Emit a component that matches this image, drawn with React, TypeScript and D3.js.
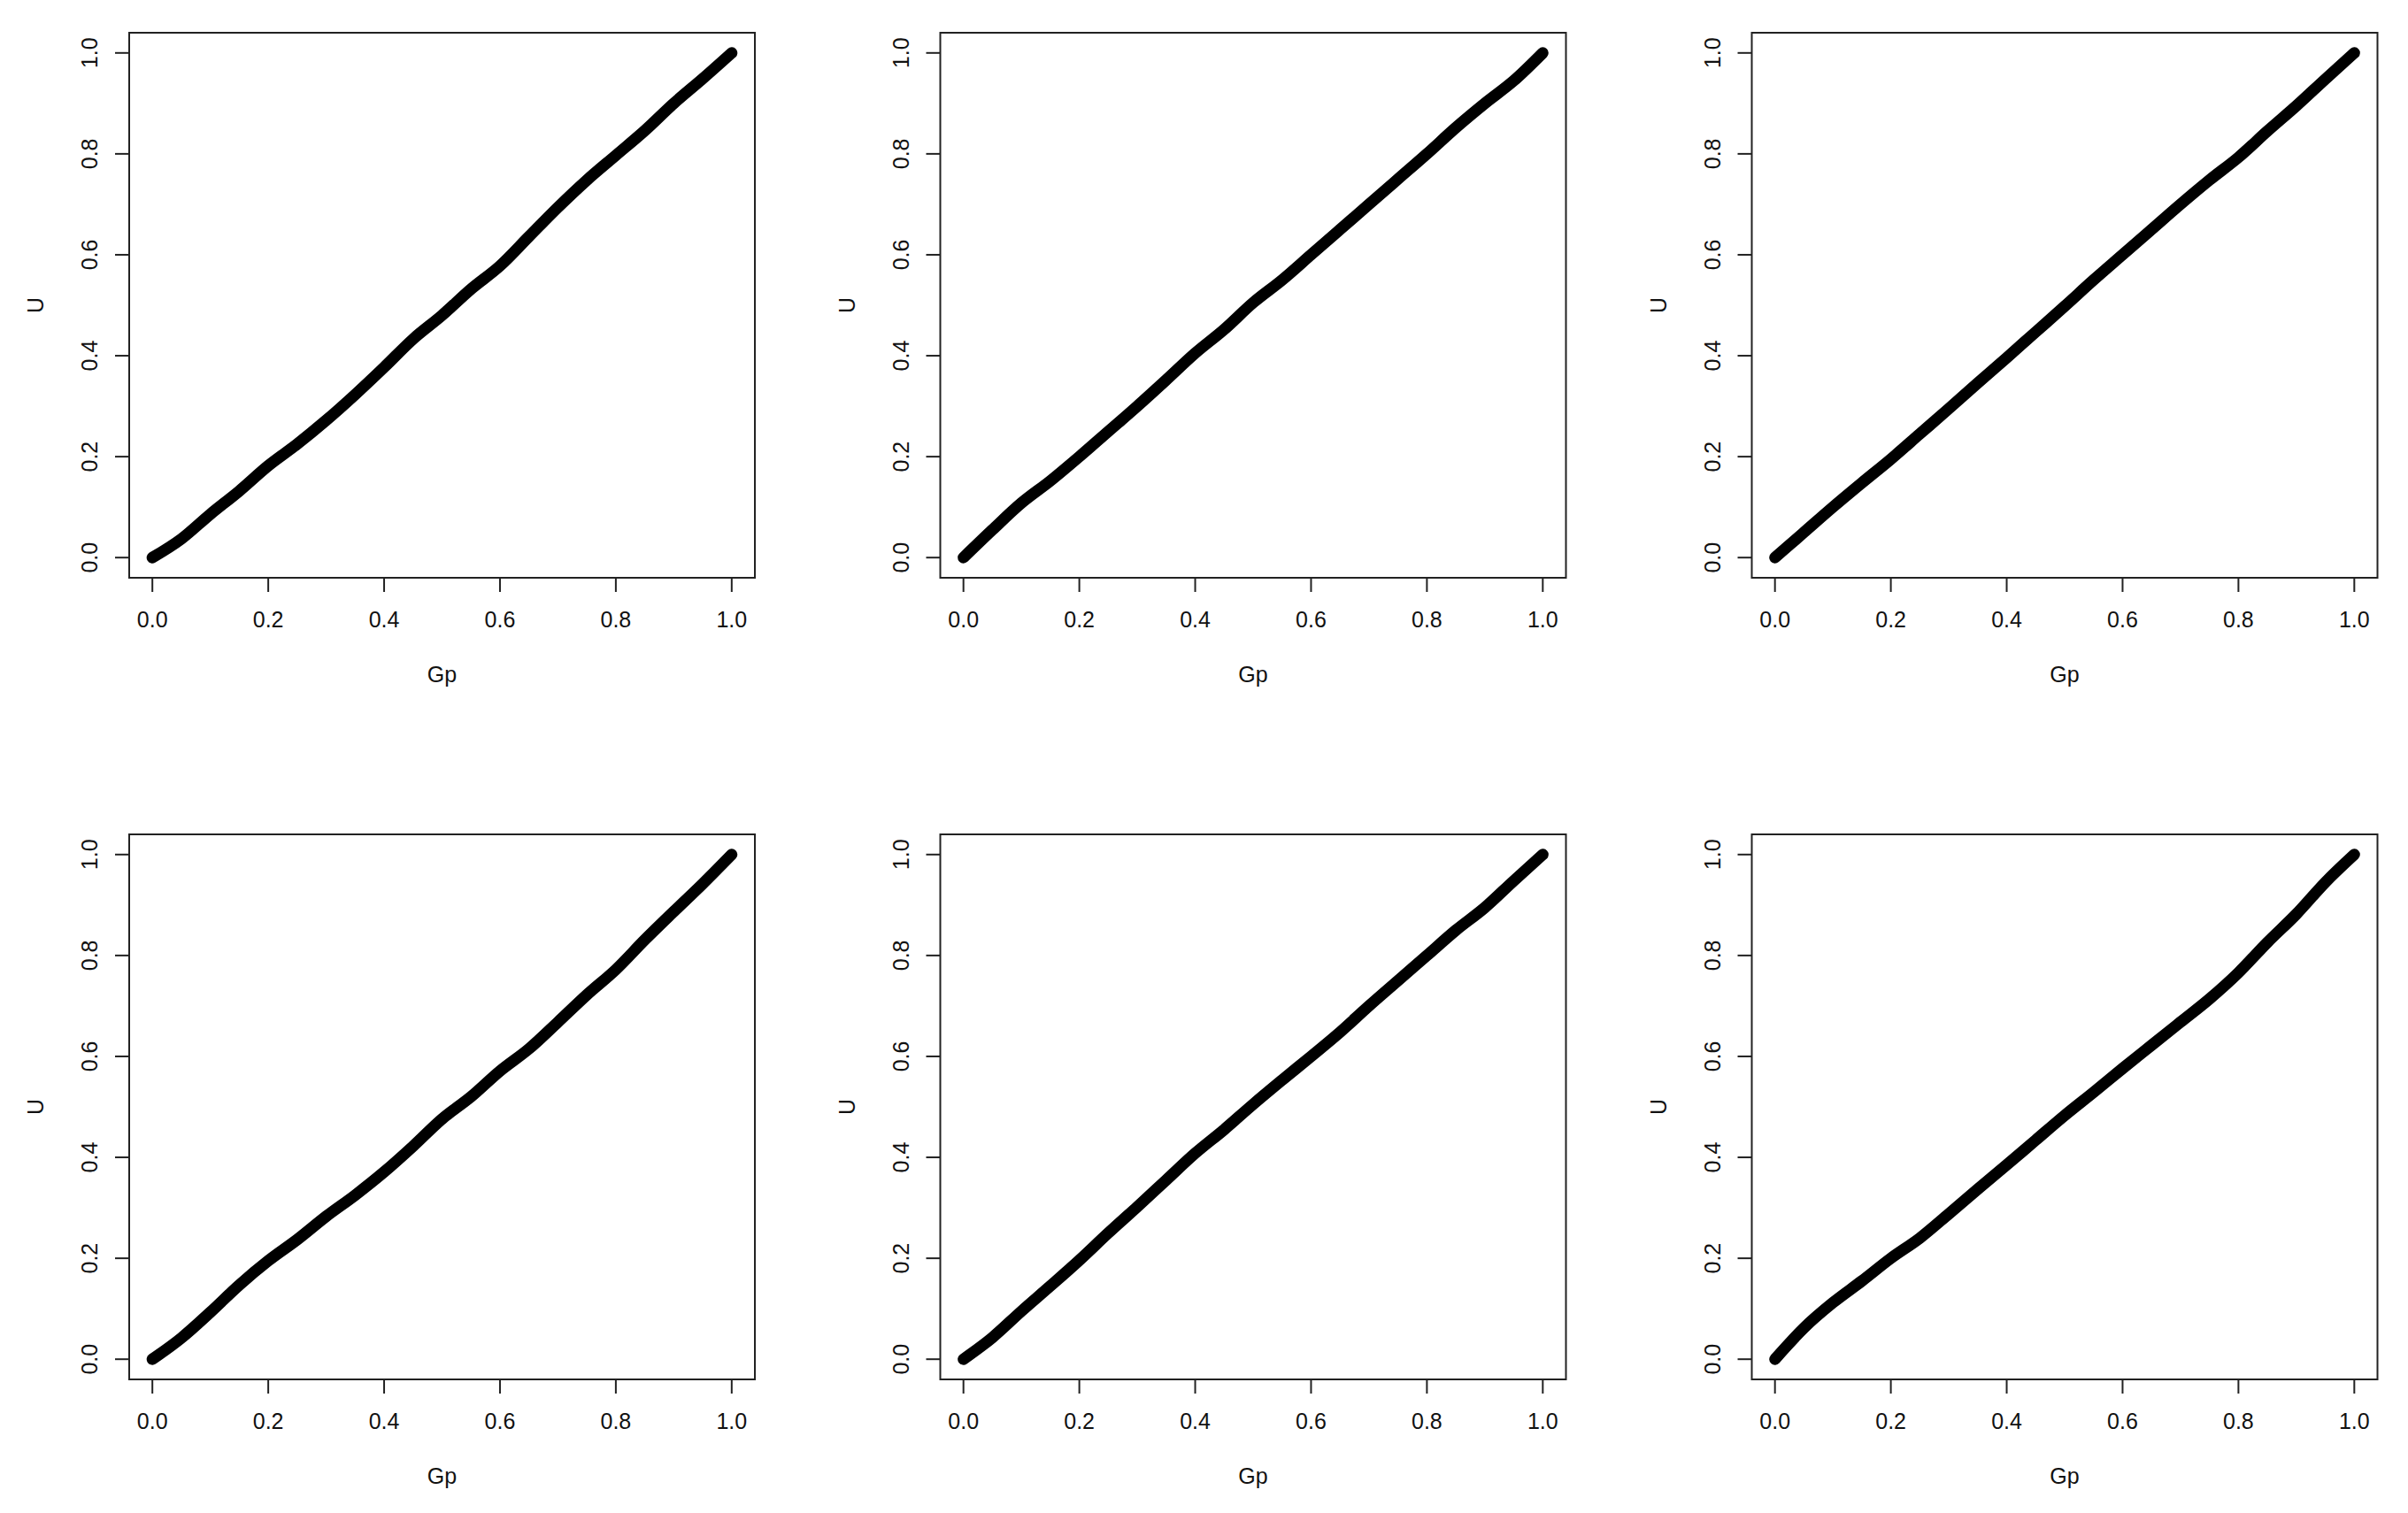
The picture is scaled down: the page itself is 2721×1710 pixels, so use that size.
import React from "react";
import * as d3 from "d3";

const WIDTH = 2721;
const HEIGHT = 1710;

// Gp grid shared by all panels
const gp = [
  0, 0.05, 0.1, 0.15, 0.2, 0.25, 0.3, 0.35, 0.4, 0.45, 0.5,
  0.55, 0.6, 0.65, 0.7, 0.75, 0.8, 0.85, 0.9, 0.95, 1,
];

// U values (row by row)
const u1 = [0, 0.037, 0.086, 0.132, 0.182, 0.225, 0.272, 0.323, 0.377, 0.433, 0.48, 0.532, 0.578, 0.636, 0.694, 0.748, 0.797, 0.846, 0.9, 0.949, 1];
const u2 = [0, 0.055, 0.108, 0.152, 0.2, 0.25, 0.3, 0.352, 0.405, 0.452, 0.505, 0.55, 0.6, 0.65, 0.7, 0.75, 0.8, 0.852, 0.9, 0.945, 1];
const u3 = [0, 0.05, 0.1, 0.148, 0.195, 0.245, 0.295, 0.346, 0.396, 0.447, 0.498, 0.55, 0.6, 0.65, 0.7, 0.748, 0.793, 0.845, 0.895, 0.948, 1];
const u4 = [0, 0.042, 0.093, 0.147, 0.195, 0.237, 0.283, 0.325, 0.371, 0.422, 0.476, 0.52, 0.571, 0.615, 0.668, 0.722, 0.772, 0.831, 0.887, 0.942, 1];
const u5 = [0, 0.043, 0.095, 0.145, 0.196, 0.25, 0.302, 0.355, 0.408, 0.455, 0.505, 0.553, 0.6, 0.648, 0.7, 0.75, 0.8, 0.85, 0.895, 0.948, 1];
const u6 = [0, 0.062, 0.112, 0.155, 0.2, 0.24, 0.288, 0.337, 0.385, 0.434, 0.483, 0.529, 0.576, 0.622, 0.668, 0.714, 0.766, 0.826, 0.882, 0.945, 1];

const panels = [u1, u2, u3, u4, u5, u6];
const ticks = [0, 0.2, 0.4, 0.6, 0.8, 1.0];

const BOX_W = 707;
const BOX_H = 616;
const colLeft = [146, 1062.5, 1979.5];
const rowTop = [37, 943];
const INSET = 0.04 / 1.08; // R's 4% axis extension, as a share of the box

const FONT = "'Liberation Sans', Arial, sans-serif";
const FS = 25;

const Panel = ({ values, left, top }) => {
  const xs = d3.scaleLinear().domain([0, 1]).range([BOX_W * INSET, BOX_W * (1 - INSET)]);
  const ys = d3.scaleLinear().domain([0, 1]).range([BOX_H * (1 - INSET), BOX_H * INSET]);

  const line = d3
    .line<number>()
    .x((_, i) => xs(gp[i]))
    .y((d) => ys(d))
    .curve(d3.curveMonotoneX);

  return (
    <g transform={`translate(${left}, ${top})`}>
      <path
        d={line(values) || ""}
        fill="none"
        stroke="#000"
        strokeWidth={13}
        strokeLinecap="round"
        strokeLinejoin="round"
      />
      <rect x={0} y={0} width={BOX_W} height={BOX_H} fill="none" stroke="#222" strokeWidth={2} />
      {ticks.map((t) => (
        <g key={"x" + t} transform={`translate(${xs(t)}, ${BOX_H})`}>
          <line x1={0} y1={0} x2={0} y2={16} stroke="#222" strokeWidth={2} />
          <text y={56} textAnchor="middle" fontFamily={FONT} fontSize={FS} fill="#111">
            {t.toFixed(1)}
          </text>
        </g>
      ))}
      {ticks.map((t) => (
        <g key={"y" + t} transform={`translate(0, ${ys(t)})`}>
          <line x1={0} y1={0} x2={-16} y2={0} stroke="#222" strokeWidth={2} />
          <text
            transform="translate(-36, 0) rotate(-90)"
            textAnchor="middle"
            fontFamily={FONT}
            fontSize={FS}
            fill="#111"
          >
            {t.toFixed(1)}
          </text>
        </g>
      ))}
      <text x={BOX_W / 2} y={BOX_H + 118} textAnchor="middle" fontFamily={FONT} fontSize={FS} fill="#111">
        Gp
      </text>
      <text
        transform={`translate(-97, ${BOX_H / 2}) rotate(-90)`}
        textAnchor="middle"
        fontFamily={FONT}
        fontSize={FS}
        fill="#111"
      >
        U
      </text>
    </g>
  );
};

export default function App() {
  return (
    <svg
      width={WIDTH}
      height={HEIGHT}
      style={{ position: "absolute", left: 0, top: 0, background: "#fff" }}
    >
      <rect width={WIDTH} height={HEIGHT} fill="#fff" />
      {panels.map((vals, i) => (
        <Panel
          key={i}
          values={vals}
          left={colLeft[i % 3]}
          top={rowTop[Math.floor(i / 3)]}
        />
      ))}
    </svg>
  );
}
